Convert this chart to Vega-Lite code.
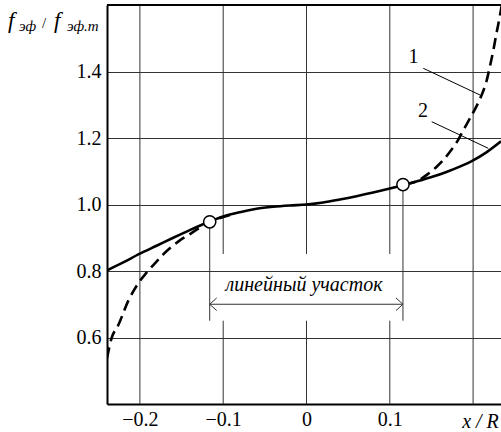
{
  "$schema": "https://vega.github.io/schema/vega-lite/v6.json",
  "width": 394,
  "height": 399,
  "autosize": {"type": "none"},
  "padding": {"left": 107, "top": 5, "right": 0, "bottom": 28},
  "config": {"view": {"stroke": null}, "font": "Liberation Serif"},
  "datasets": {
    "solid": [
      {"x": -0.2395, "y": 0.802}, {"x": -0.22, "y": 0.826}, {"x": -0.2, "y": 0.852}, {"x": -0.18, "y": 0.876},
      {"x": -0.16, "y": 0.9}, {"x": -0.14, "y": 0.923}, {"x": -0.117, "y": 0.948}, {"x": -0.1, "y": 0.964},
      {"x": -0.08, "y": 0.977}, {"x": -0.06, "y": 0.987}, {"x": -0.04, "y": 0.993}, {"x": -0.02, "y": 0.997},
      {"x": 0, "y": 1.0}, {"x": 0.02, "y": 1.006}, {"x": 0.04, "y": 1.015}, {"x": 0.06, "y": 1.025},
      {"x": 0.08, "y": 1.036}, {"x": 0.1, "y": 1.048}, {"x": 0.1158, "y": 1.058}, {"x": 0.136, "y": 1.072},
      {"x": 0.152, "y": 1.084}, {"x": 0.168, "y": 1.098}, {"x": 0.184, "y": 1.114}, {"x": 0.2, "y": 1.133},
      {"x": 0.216, "y": 1.157}, {"x": 0.2335, "y": 1.19}
    ],
    "dashed": [
      {"p": "a", "x": -0.2395, "y": 0.538}, {"p": "a", "x": -0.234, "y": 0.598}, {"p": "a", "x": -0.226, "y": 0.637},
      {"p": "a", "x": -0.214, "y": 0.71}, {"p": "a", "x": -0.202, "y": 0.763}, {"p": "a", "x": -0.192, "y": 0.795},
      {"p": "a", "x": -0.182, "y": 0.823}, {"p": "a", "x": -0.172, "y": 0.85}, {"p": "a", "x": -0.162, "y": 0.873},
      {"p": "a", "x": -0.152, "y": 0.892}, {"p": "a", "x": -0.142, "y": 0.908}, {"p": "a", "x": -0.126, "y": 0.933},
      {"p": "a", "x": -0.117, "y": 0.945}, {"p": "a", "x": -0.105, "y": 0.958}, {"p": "a", "x": -0.09, "y": 0.97},
      {"p": "b", "x": 0.118, "y": 1.06}, {"p": "b", "x": 0.128, "y": 1.066}, {"p": "b", "x": 0.136, "y": 1.075},
      {"p": "b", "x": 0.146, "y": 1.092}, {"p": "b", "x": 0.156, "y": 1.113}, {"p": "b", "x": 0.164, "y": 1.133},
      {"p": "b", "x": 0.172, "y": 1.158}, {"p": "b", "x": 0.18, "y": 1.186}, {"p": "b", "x": 0.188, "y": 1.222},
      {"p": "b", "x": 0.196, "y": 1.258}, {"p": "b", "x": 0.204, "y": 1.295}, {"p": "b", "x": 0.21, "y": 1.328},
      {"p": "b", "x": 0.216, "y": 1.37}, {"p": "b", "x": 0.22, "y": 1.413}, {"p": "b", "x": 0.224, "y": 1.46},
      {"p": "b", "x": 0.228, "y": 1.514}, {"p": "b", "x": 0.232, "y": 1.565}, {"p": "b", "x": 0.2345, "y": 1.6}
    ],
    "vgrid": [
      {"x": -0.2, "y": 0.4, "y2": 1.6}, {"x": 0.2, "y": 0.4, "y2": 1.6},
      {"x": -0.1, "y": 0.8511, "y2": 1.6}, {"x": -0.1, "y": 0.4, "y2": 0.6505},
      {"x": 0, "y": 0.8511, "y2": 1.6}, {"x": 0, "y": 0.4, "y2": 0.6505},
      {"x": 0.1, "y": 0.8511, "y2": 1.6}, {"x": 0.1, "y": 0.4, "y2": 0.6505}
    ],
    "border": [{"x": -0.2395, "x2": 0.2335, "y": 1.6}],
    "drops": [
      {"x": -0.1162, "y": 0.6505, "y2": 0.948}, {"x": 0.1158, "y": 0.6505, "y2": 1.06}
    ],
    "circles": [{"x": -0.1162, "y": 0.948}, {"x": 0.1158, "y": 1.06}],
    "span": [{"x": -0.1162, "x2": 0.1158, "y": 0.7}],
    "leaders": [
      {"x": 0.1402, "y": 1.4096, "x2": 0.2083, "y2": 1.3293},
      {"x": 0.1503, "y": 1.249, "x2": 0.2182, "y2": 1.169}
    ],
    "nums": [{"x": 0.1284, "y": 1.4256, "t": "1"}, {"x": 0.1399, "y": 1.2632, "t": "2"}],
    "italics": [
      {"x": -0.003, "y": 0.7398, "t": "линейный участок"},
      {"x": 0.2089, "y": 0.3278, "t": "x / R"}
    ],
    "tbig": [{"x": -0.3583, "y": 1.5308, "t": "f"}, {"x": -0.3031, "y": 1.5308, "t": "f"}],
    "tsmall": [{"x": -0.3451, "y": 1.5218, "t": "эф"}, {"x": -0.2875, "y": 1.5218, "t": "эф.т"}],
    "tslash": [{"x": -0.3175, "y": 1.5308, "t": "/"}]
  },
  "encoding": {
    "x": {
      "field": "x", "type": "quantitative",
      "scale": {"domain": [-0.2395, 0.2335], "nice": false, "zero": false},
      "axis": {
        "values": [-0.2, -0.1, 0, 0.1], "format": ".1~f", "grid": false, "ticks": false,
        "domainColor": "black", "domainWidth": 2, "labelFontSize": 20, "labelColor": "black",
        "labelPadding": 5, "labelFont": "Liberation Serif", "title": null
      }
    },
    "y": {
      "field": "y", "type": "quantitative",
      "scale": {"domain": [0.4, 1.6], "nice": false, "zero": false},
      "axis": {
        "values": [0.6, 0.8, 1.0, 1.2, 1.4], "format": ".1f", "grid": true, "gridColor": "#333",
        "gridWidth": 1, "gridOpacity": 1, "ticks": false, "domainColor": "black", "domainWidth": 2,
        "labelFontSize": 20, "labelColor": "black", "labelPadding": 6, "labelFont": "Liberation Serif", "title": null
      }
    }
  },
  "layer": [
    {"data": {"name": "vgrid"}, "mark": {"type": "rule", "color": "#333", "strokeWidth": 1},
     "encoding": {"y2": {"field": "y2"}}},
    {"data": {"name": "border"}, "mark": {"type": "rule", "color": "black", "strokeWidth": 2},
     "encoding": {"x2": {"field": "x2"}}},
    {"data": {"name": "drops"}, "mark": {"type": "rule", "color": "#333", "strokeWidth": 1},
     "encoding": {"y2": {"field": "y2"}}},
    {"data": {"name": "span"}, "mark": {"type": "rule", "color": "#333", "strokeWidth": 1},
     "encoding": {"x2": {"field": "x2"}}},
    {"data": {"name": "span"}, "mark": {"type": "point", "shape": "M1,-0.9L0,0L1,0.9", "size": 196, "filled": false, "stroke": "#333", "strokeWidth": 1, "opacity": 1},
     "encoding": {}},
    {"data": {"name": "span"}, "mark": {"type": "point", "shape": "M-1,-0.9L0,0L-1,0.9", "size": 196, "filled": false, "stroke": "#333", "strokeWidth": 1, "opacity": 1},
     "encoding": {"x": {"field": "x2", "type": "quantitative"}}},
    {"data": {"name": "leaders"}, "mark": {"type": "rule", "color": "black", "strokeWidth": 1},
     "encoding": {"x2": {"field": "x2"}, "y2": {"field": "y2"}}},
    {"data": {"name": "solid"}, "mark": {"type": "line", "color": "black", "strokeWidth": 2.6, "interpolate": "monotone", "clip": true},
     "encoding": {}},
    {"data": {"name": "dashed"}, "mark": {"type": "line", "color": "black", "strokeWidth": 2.6, "strokeDash": [11, 6], "interpolate": "monotone", "clip": true},
     "encoding": {"detail": {"field": "p"}}},
    {"data": {"name": "circles"}, "mark": {"type": "point", "shape": "circle", "size": 150, "filled": true, "fill": "white", "stroke": "black", "strokeWidth": 1.5, "opacity": 1},
     "encoding": {}},
    {"data": {"name": "nums"}, "mark": {"type": "text", "font": "Liberation Serif", "fontSize": 20, "align": "center", "baseline": "alphabetic", "color": "black"},
     "encoding": {"text": {"field": "t"}}},
    {"data": {"name": "italics"}, "mark": {"type": "text", "font": "Liberation Serif", "fontSize": 20, "fontStyle": "italic", "align": "center", "baseline": "alphabetic", "color": "black"},
     "encoding": {"text": {"field": "t"}}},
    {"data": {"name": "tbig"}, "mark": {"type": "text", "font": "Liberation Serif", "fontSize": 23, "fontStyle": "italic", "align": "left", "baseline": "alphabetic", "color": "black"},
     "encoding": {"text": {"field": "t"}}},
    {"data": {"name": "tsmall"}, "mark": {"type": "text", "font": "Liberation Serif", "fontSize": 15, "fontStyle": "italic", "align": "left", "baseline": "alphabetic", "color": "black"},
     "encoding": {"text": {"field": "t"}}},
    {"data": {"name": "tslash"}, "mark": {"type": "text", "font": "Liberation Serif", "fontSize": 15, "align": "left", "baseline": "alphabetic", "color": "black"},
     "encoding": {"text": {"field": "t"}}}
  ]
}
